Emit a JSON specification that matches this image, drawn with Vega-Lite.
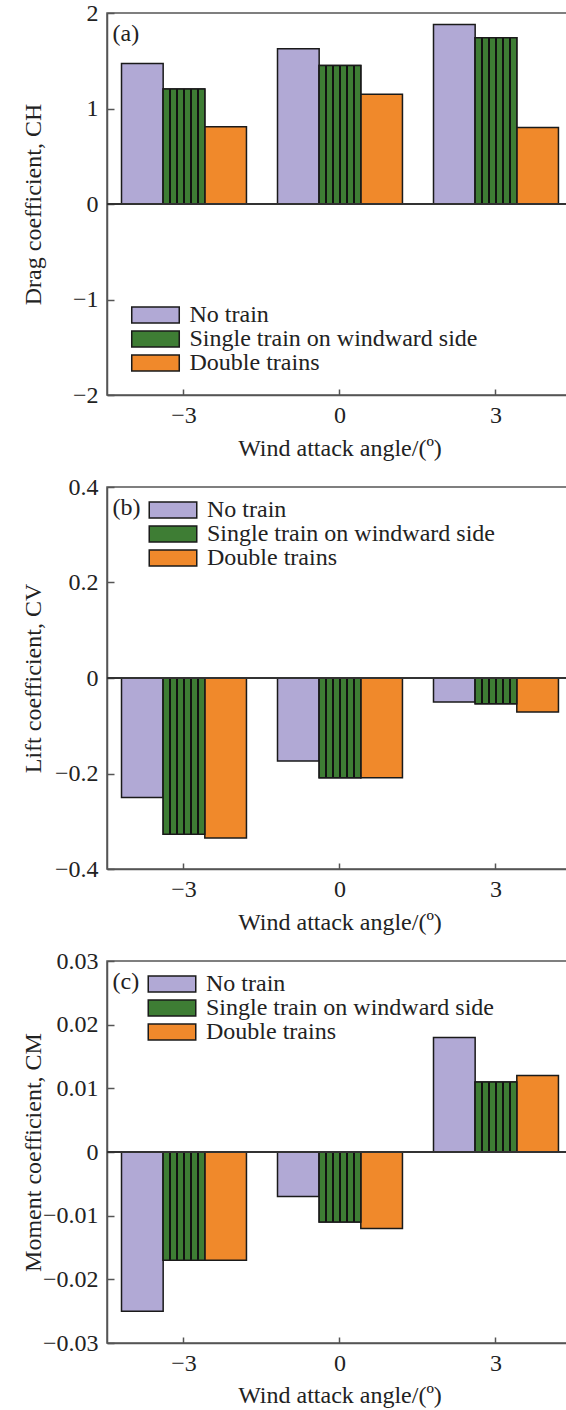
{
  "$schema": "https://vega.github.io/schema/vega-lite/v6.json",
  "padding": {"left": 20, "top": 0, "right": 0, "bottom": 0},
  "background": "white",
  "config": {
    "font": "Liberation Serif",
    "view": {"stroke": "#555", "strokeWidth": 1.5},
    "axis": {
      "labelFont": "Liberation Serif", "titleFont": "Liberation Serif",
      "labelFontSize": 24, "titleFontSize": 24,
      "labelColor": "#222", "titleColor": "#222", "titleFontWeight": "normal",
      "domainColor": "#555", "domainWidth": 1.5,
      "tickColor": "#555", "tickWidth": 1.5, "grid": false
    },
    "legend": {
      "labelFont": "Liberation Serif", "labelFontSize": 24, "labelColor": "#222", "labelLimit": 0,
      "symbolType": "M-2.97,-1L2.97,-1L2.97,1L-2.97,1Z",
      "symbolSize": 256, "symbolStrokeColor": "#1a1a1a", "symbolStrokeWidth": 1.5,
      "symbolOpacity": 1,
      "labelOffset": 22, "rowPadding": 0, "padding": 0, "orient": "none"
    },
    "title": {
      "font": "Liberation Serif", "fontSize": 24, "fontWeight": "normal", "color": "#222",
      "anchor": "start", "frame": "group", "orient": "top", "offset": -45, "dx": 5.5, "baseline": "middle"
    }
  },
  "data": {
    "values": [
      {"panel": "a", "angle": "-3", "config": "No train", "value": 1.47},
      {"panel": "a", "angle": "-3", "config": "Single train on windward side", "value": 1.205},
      {"panel": "a", "angle": "-3", "config": "Double trains", "value": 0.81},
      {"panel": "a", "angle": "0", "config": "No train", "value": 1.625},
      {"panel": "a", "angle": "0", "config": "Single train on windward side", "value": 1.45},
      {"panel": "a", "angle": "0", "config": "Double trains", "value": 1.15},
      {"panel": "a", "angle": "3", "config": "No train", "value": 1.88},
      {"panel": "a", "angle": "3", "config": "Single train on windward side", "value": 1.74},
      {"panel": "a", "angle": "3", "config": "Double trains", "value": 0.8},
      {"panel": "b", "angle": "-3", "config": "No train", "value": -0.25},
      {"panel": "b", "angle": "-3", "config": "Single train on windward side", "value": -0.327},
      {"panel": "b", "angle": "-3", "config": "Double trains", "value": -0.335},
      {"panel": "b", "angle": "0", "config": "No train", "value": -0.174},
      {"panel": "b", "angle": "0", "config": "Single train on windward side", "value": -0.209},
      {"panel": "b", "angle": "0", "config": "Double trains", "value": -0.209},
      {"panel": "b", "angle": "3", "config": "No train", "value": -0.05},
      {"panel": "b", "angle": "3", "config": "Single train on windward side", "value": -0.054},
      {"panel": "b", "angle": "3", "config": "Double trains", "value": -0.071},
      {"panel": "c", "angle": "-3", "config": "No train", "value": -0.025},
      {"panel": "c", "angle": "-3", "config": "Single train on windward side", "value": -0.017},
      {"panel": "c", "angle": "-3", "config": "Double trains", "value": -0.017},
      {"panel": "c", "angle": "0", "config": "No train", "value": -0.007},
      {"panel": "c", "angle": "0", "config": "Single train on windward side", "value": -0.011},
      {"panel": "c", "angle": "0", "config": "Double trains", "value": -0.012},
      {"panel": "c", "angle": "3", "config": "No train", "value": 0.018},
      {"panel": "c", "angle": "3", "config": "Single train on windward side", "value": 0.011},
      {"panel": "c", "angle": "3", "config": "Double trains", "value": 0.012}
    ]
  },
  "spacing": 13,
  "resolve": {"scale": {"color": "independent", "y": "independent"}, "legend": {"color": "independent"}},
  "vconcat": [
    {
      "width": 480, "height": 382,
      "title": {"text": "(a)"},
      "transform": [{"filter": "datum.panel == 'a'"}],
      "encoding": {
        "x": {"field": "angle", "type": "ordinal", "sort": ["-3", "0", "3"],
          "scale": {"paddingInner": 0.199, "paddingOuter": 0.138, "align": 0.337},
          "axis": {"orient": "bottom", "tickSize": -6, "labelPadding": 14, "labelAngle": 0,
            "labelExpr": "replace(datum.label, '-', '−')",
            "title": "Wind attack angle/(º)", "titleX": 232.5, "titleY": 53, "titleBaseline": "middle", "titleAlign": "center"}},
        "xOffset": {"field": "config", "scale": {"domain": ["No train", "Single train on windward side", "Double trains"]}},
        "y": {"field": "value", "type": "quantitative", "stack": null, "scale": {"domain": [-2, 2], "nice": false},
          "axis": {"values": [-2, -1, 0, 1, 2], "format": "~g", "tickSize": -7, "labelPadding": 16,
            "title": "Drag coefficient, CH", "titleAngle": 270, "titleBaseline": "middle", "titleX": -74, "titleY": 191, "titleAlign": "center"}}
      },
      "layer": [
        {
          "mark": {"type": "bar", "stroke": "#1a1a1a", "strokeWidth": 1.5},
          "encoding": {
            "color": {"field": "config", "type": "nominal",
              "scale": {"domain": ["No train", "Single train on windward side", "Double trains"], "range": ["#b1a9d5", "#3e7d34", "#f0892b"]},
              "legend": {"title": null, "legendX": 36.5, "legendY": 290,
                "encode": {"symbols": {"update": {
                  "stroke": {"value": "#1a1a1a"}, "strokeWidth": {"value": 1.5}, "opacity": {"value": 1},
                  "fill": [
                  {"test": "datum.value === 'Single train on windward side'", "value": {"gradient": "linear", "x1": 0, "y1": 0, "x2": 1, "y2": 0, "stops": [
                    {"offset": 0, "color": "#3e7d34"}, {"offset": 0.125, "color": "#3e7d34"}, {"offset": 0.125, "color": "#111111"}, {"offset": 0.16, "color": "#111111"}, {"offset": 0.16, "color": "#3e7d34"},
                    {"offset": 0.268, "color": "#3e7d34"}, {"offset": 0.268, "color": "#111111"}, {"offset": 0.303, "color": "#111111"}, {"offset": 0.303, "color": "#3e7d34"},
                    {"offset": 0.411, "color": "#3e7d34"}, {"offset": 0.411, "color": "#111111"}, {"offset": 0.446, "color": "#111111"}, {"offset": 0.446, "color": "#3e7d34"},
                    {"offset": 0.554, "color": "#3e7d34"}, {"offset": 0.554, "color": "#111111"}, {"offset": 0.589, "color": "#111111"}, {"offset": 0.589, "color": "#3e7d34"},
                    {"offset": 0.697, "color": "#3e7d34"}, {"offset": 0.697, "color": "#111111"}, {"offset": 0.732, "color": "#111111"}, {"offset": 0.732, "color": "#3e7d34"},
                    {"offset": 0.84, "color": "#3e7d34"}, {"offset": 0.84, "color": "#111111"}, {"offset": 0.875, "color": "#111111"}, {"offset": 0.875, "color": "#3e7d34"},
                    {"offset": 1, "color": "#3e7d34"}]}},
                  {"test": "datum.value === 'No train'", "value": "#b1a9d5"},
                  {"value": "#f0892b"}]}}}}}
          }
        },
        {
          "transform": [{"filter": "datum.config == 'Single train on windward side'"}],
          "mark": {"type": "bar", "stroke": "#1a1a1a", "strokeWidth": 1.5,
            "fill": {"gradient": "linear", "x1": 0, "y1": 0, "x2": 1, "y2": 0, "stops": [
              {"offset": 0, "color": "#3e7d34"}, {"offset": 0.1445, "color": "#3e7d34"}, {"offset": 0.1445, "color": "#111111"}, {"offset": 0.1889, "color": "#111111"}, {"offset": 0.1889, "color": "#3e7d34"},
              {"offset": 0.311, "color": "#3e7d34"}, {"offset": 0.311, "color": "#111111"}, {"offset": 0.356, "color": "#111111"}, {"offset": 0.356, "color": "#3e7d34"},
              {"offset": 0.478, "color": "#3e7d34"}, {"offset": 0.478, "color": "#111111"}, {"offset": 0.522, "color": "#111111"}, {"offset": 0.522, "color": "#3e7d34"},
              {"offset": 0.644, "color": "#3e7d34"}, {"offset": 0.644, "color": "#111111"}, {"offset": 0.689, "color": "#111111"}, {"offset": 0.689, "color": "#3e7d34"},
              {"offset": 0.811, "color": "#3e7d34"}, {"offset": 0.811, "color": "#111111"}, {"offset": 0.856, "color": "#111111"}, {"offset": 0.856, "color": "#3e7d34"},
              {"offset": 1, "color": "#3e7d34"}]}}
        },
        {"mark": {"type": "rule", "color": "#333", "strokeWidth": 1.5}, "encoding": {"y": {"datum": 0}, "x": null, "xOffset": null}}
      ]
    },
    {
      "width": 480, "height": 382,
      "title": {"text": "(b)"},
      "transform": [{"filter": "datum.panel == 'b'"}],
      "encoding": {
        "x": {"field": "angle", "type": "ordinal", "sort": ["-3", "0", "3"],
          "scale": {"paddingInner": 0.199, "paddingOuter": 0.138, "align": 0.337},
          "axis": {"orient": "bottom", "tickSize": -6, "labelPadding": 14, "labelAngle": 0,
            "labelExpr": "replace(datum.label, '-', '−')",
            "title": "Wind attack angle/(º)", "titleX": 232.5, "titleY": 53, "titleBaseline": "middle", "titleAlign": "center"}},
        "xOffset": {"field": "config", "scale": {"domain": ["No train", "Single train on windward side", "Double trains"]}},
        "y": {"field": "value", "type": "quantitative", "stack": null, "scale": {"domain": [-0.4, 0.4], "nice": false},
          "axis": {"values": [-0.4, -0.2, 0, 0.2, 0.4], "format": "~g", "tickSize": -7, "labelPadding": 16,
            "title": "Lift coefficient, CV", "titleAngle": 270, "titleBaseline": "middle", "titleX": -74, "titleY": 191, "titleAlign": "center"}}
      },
      "layer": [
        {
          "mark": {"type": "bar", "stroke": "#1a1a1a", "strokeWidth": 1.5},
          "encoding": {
            "color": {"field": "config", "type": "nominal",
              "scale": {"domain": ["No train", "Single train on windward side", "Double trains"], "range": ["#b1a9d5", "#3e7d34", "#f0892b"]},
              "legend": {"title": null, "legendX": 54, "legendY": 11,
                "encode": {"symbols": {"update": {
                  "stroke": {"value": "#1a1a1a"}, "strokeWidth": {"value": 1.5}, "opacity": {"value": 1},
                  "fill": [
                  {"test": "datum.value === 'Single train on windward side'", "value": {"gradient": "linear", "x1": 0, "y1": 0, "x2": 1, "y2": 0, "stops": [
                    {"offset": 0, "color": "#3e7d34"}, {"offset": 0.125, "color": "#3e7d34"}, {"offset": 0.125, "color": "#111111"}, {"offset": 0.16, "color": "#111111"}, {"offset": 0.16, "color": "#3e7d34"},
                    {"offset": 0.268, "color": "#3e7d34"}, {"offset": 0.268, "color": "#111111"}, {"offset": 0.303, "color": "#111111"}, {"offset": 0.303, "color": "#3e7d34"},
                    {"offset": 0.411, "color": "#3e7d34"}, {"offset": 0.411, "color": "#111111"}, {"offset": 0.446, "color": "#111111"}, {"offset": 0.446, "color": "#3e7d34"},
                    {"offset": 0.554, "color": "#3e7d34"}, {"offset": 0.554, "color": "#111111"}, {"offset": 0.589, "color": "#111111"}, {"offset": 0.589, "color": "#3e7d34"},
                    {"offset": 0.697, "color": "#3e7d34"}, {"offset": 0.697, "color": "#111111"}, {"offset": 0.732, "color": "#111111"}, {"offset": 0.732, "color": "#3e7d34"},
                    {"offset": 0.84, "color": "#3e7d34"}, {"offset": 0.84, "color": "#111111"}, {"offset": 0.875, "color": "#111111"}, {"offset": 0.875, "color": "#3e7d34"},
                    {"offset": 1, "color": "#3e7d34"}]}},
                  {"test": "datum.value === 'No train'", "value": "#b1a9d5"},
                  {"value": "#f0892b"}]}}}}}
          }
        },
        {
          "transform": [{"filter": "datum.config == 'Single train on windward side'"}],
          "mark": {"type": "bar", "stroke": "#1a1a1a", "strokeWidth": 1.5,
            "fill": {"gradient": "linear", "x1": 0, "y1": 0, "x2": 1, "y2": 0, "stops": [
              {"offset": 0, "color": "#3e7d34"}, {"offset": 0.1445, "color": "#3e7d34"}, {"offset": 0.1445, "color": "#111111"}, {"offset": 0.1889, "color": "#111111"}, {"offset": 0.1889, "color": "#3e7d34"},
              {"offset": 0.311, "color": "#3e7d34"}, {"offset": 0.311, "color": "#111111"}, {"offset": 0.356, "color": "#111111"}, {"offset": 0.356, "color": "#3e7d34"},
              {"offset": 0.478, "color": "#3e7d34"}, {"offset": 0.478, "color": "#111111"}, {"offset": 0.522, "color": "#111111"}, {"offset": 0.522, "color": "#3e7d34"},
              {"offset": 0.644, "color": "#3e7d34"}, {"offset": 0.644, "color": "#111111"}, {"offset": 0.689, "color": "#111111"}, {"offset": 0.689, "color": "#3e7d34"},
              {"offset": 0.811, "color": "#3e7d34"}, {"offset": 0.811, "color": "#111111"}, {"offset": 0.856, "color": "#111111"}, {"offset": 0.856, "color": "#3e7d34"},
              {"offset": 1, "color": "#3e7d34"}]}}
        },
        {"mark": {"type": "rule", "color": "#333", "strokeWidth": 1.5}, "encoding": {"y": {"datum": 0}, "x": null, "xOffset": null}}
      ]
    },
    {
      "width": 480, "height": 382,
      "title": {"text": "(c)"},
      "transform": [{"filter": "datum.panel == 'c'"}],
      "encoding": {
        "x": {"field": "angle", "type": "ordinal", "sort": ["-3", "0", "3"],
          "scale": {"paddingInner": 0.199, "paddingOuter": 0.138, "align": 0.337},
          "axis": {"orient": "bottom", "tickSize": -6, "labelPadding": 14, "labelAngle": 0,
            "labelExpr": "replace(datum.label, '-', '−')",
            "title": "Wind attack angle/(º)", "titleX": 232.5, "titleY": 52, "titleBaseline": "middle", "titleAlign": "center"}},
        "xOffset": {"field": "config", "scale": {"domain": ["No train", "Single train on windward side", "Double trains"]}},
        "y": {"field": "value", "type": "quantitative", "stack": null, "scale": {"domain": [-0.03, 0.03], "nice": false},
          "axis": {"values": [-0.03, -0.02, -0.01, 0, 0.01, 0.02, 0.03], "format": "~g", "tickSize": -7, "labelPadding": 16,
            "title": "Moment coefficient, CM", "titleAngle": 270, "titleBaseline": "middle", "titleX": -74, "titleY": 191, "titleAlign": "center"}}
      },
      "layer": [
        {
          "mark": {"type": "bar", "stroke": "#1a1a1a", "strokeWidth": 1.5},
          "encoding": {
            "color": {"field": "config", "type": "nominal",
              "scale": {"domain": ["No train", "Single train on windward side", "Double trains"], "range": ["#b1a9d5", "#3e7d34", "#f0892b"]},
              "legend": {"title": null, "legendX": 53, "legendY": 11,
                "encode": {"symbols": {"update": {
                  "stroke": {"value": "#1a1a1a"}, "strokeWidth": {"value": 1.5}, "opacity": {"value": 1},
                  "fill": [
                  {"test": "datum.value === 'Single train on windward side'", "value": {"gradient": "linear", "x1": 0, "y1": 0, "x2": 1, "y2": 0, "stops": [
                    {"offset": 0, "color": "#3e7d34"}, {"offset": 0.125, "color": "#3e7d34"}, {"offset": 0.125, "color": "#111111"}, {"offset": 0.16, "color": "#111111"}, {"offset": 0.16, "color": "#3e7d34"},
                    {"offset": 0.268, "color": "#3e7d34"}, {"offset": 0.268, "color": "#111111"}, {"offset": 0.303, "color": "#111111"}, {"offset": 0.303, "color": "#3e7d34"},
                    {"offset": 0.411, "color": "#3e7d34"}, {"offset": 0.411, "color": "#111111"}, {"offset": 0.446, "color": "#111111"}, {"offset": 0.446, "color": "#3e7d34"},
                    {"offset": 0.554, "color": "#3e7d34"}, {"offset": 0.554, "color": "#111111"}, {"offset": 0.589, "color": "#111111"}, {"offset": 0.589, "color": "#3e7d34"},
                    {"offset": 0.697, "color": "#3e7d34"}, {"offset": 0.697, "color": "#111111"}, {"offset": 0.732, "color": "#111111"}, {"offset": 0.732, "color": "#3e7d34"},
                    {"offset": 0.84, "color": "#3e7d34"}, {"offset": 0.84, "color": "#111111"}, {"offset": 0.875, "color": "#111111"}, {"offset": 0.875, "color": "#3e7d34"},
                    {"offset": 1, "color": "#3e7d34"}]}},
                  {"test": "datum.value === 'No train'", "value": "#b1a9d5"},
                  {"value": "#f0892b"}]}}}}}
          }
        },
        {
          "transform": [{"filter": "datum.config == 'Single train on windward side'"}],
          "mark": {"type": "bar", "stroke": "#1a1a1a", "strokeWidth": 1.5,
            "fill": {"gradient": "linear", "x1": 0, "y1": 0, "x2": 1, "y2": 0, "stops": [
              {"offset": 0, "color": "#3e7d34"}, {"offset": 0.1445, "color": "#3e7d34"}, {"offset": 0.1445, "color": "#111111"}, {"offset": 0.1889, "color": "#111111"}, {"offset": 0.1889, "color": "#3e7d34"},
              {"offset": 0.311, "color": "#3e7d34"}, {"offset": 0.311, "color": "#111111"}, {"offset": 0.356, "color": "#111111"}, {"offset": 0.356, "color": "#3e7d34"},
              {"offset": 0.478, "color": "#3e7d34"}, {"offset": 0.478, "color": "#111111"}, {"offset": 0.522, "color": "#111111"}, {"offset": 0.522, "color": "#3e7d34"},
              {"offset": 0.644, "color": "#3e7d34"}, {"offset": 0.644, "color": "#111111"}, {"offset": 0.689, "color": "#111111"}, {"offset": 0.689, "color": "#3e7d34"},
              {"offset": 0.811, "color": "#3e7d34"}, {"offset": 0.811, "color": "#111111"}, {"offset": 0.856, "color": "#111111"}, {"offset": 0.856, "color": "#3e7d34"},
              {"offset": 1, "color": "#3e7d34"}]}}
        },
        {"mark": {"type": "rule", "color": "#333", "strokeWidth": 1.5}, "encoding": {"y": {"datum": 0}, "x": null, "xOffset": null}}
      ]
    }
  ]
}
